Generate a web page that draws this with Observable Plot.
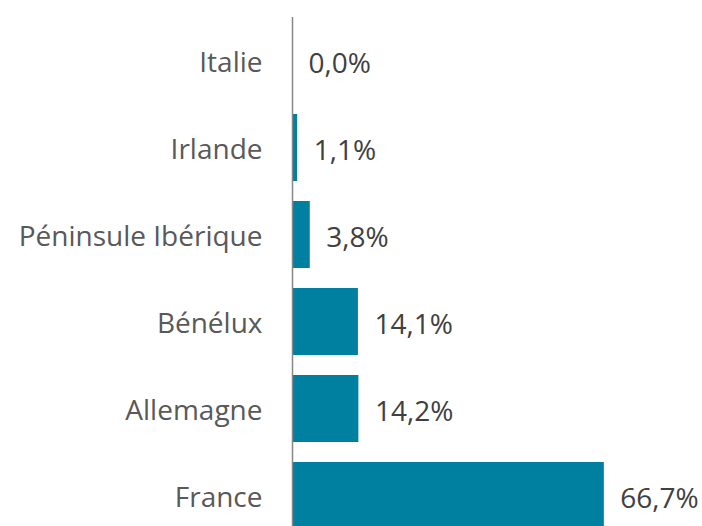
<!DOCTYPE html>
<html>
<head>
<meta charset="utf-8">
<script src="https://cdn.jsdelivr.net/npm/d3@7"></script>
<script src="https://cdn.jsdelivr.net/npm/@observablehq/plot@0.6"></script>
<style>
  html, body { margin: 0; padding: 0; background: #fff; }
  #chart { width: 702px; height: 526px; overflow: hidden; }
</style>
</head>
<body>
<div id="chart"></div>
<script>
const categories = ["Italie", "Irlande", "Péninsule Ibérique", "Bénélux", "Allemagne", "France"];
const values = [0.0, 1.1, 3.8, 14.1, 14.2, 66.7];
const valueLabels = ["0,0%", "1,1%", "3,8%", "14,1%", "14,2%", "66,7%"];

const data = categories.map((c, i) => ({category: c, value: values[i], label: valueLabels[i]}));

const chart = Plot.plot({
  width: 702,
  height: 526,
  marginLeft: 292,
  marginRight: 36,
  marginTop: 17,
  marginBottom: 0,
  style: {fontFamily: "'Open Sans', sans-serif", background: "#fff"},
  x: {domain: [0, 80], axis: null},
  y: {domain: categories, range: [17, 539], paddingInner: 0.23, paddingOuter: 0.115, label: null},
  marks: [
    Plot.barX(data, {x: "value", y: "category", fill: "#0080A0"}),
    Plot.ruleX([0], {stroke: "#868686", strokeWidth: 1.5}),
    Plot.axisY({tickSize: 0, tickPadding: 30, fontSize: 28, dy: 2, fill: "#595959", label: null}),
    Plot.text(data, {x: "value", y: "category", text: "label", textAnchor: "start", dx: 16, dy: 3, fontSize: 28, fill: "#404040"})
  ]
});
document.getElementById("chart").appendChild(chart);
</script>
</body>
</html>
